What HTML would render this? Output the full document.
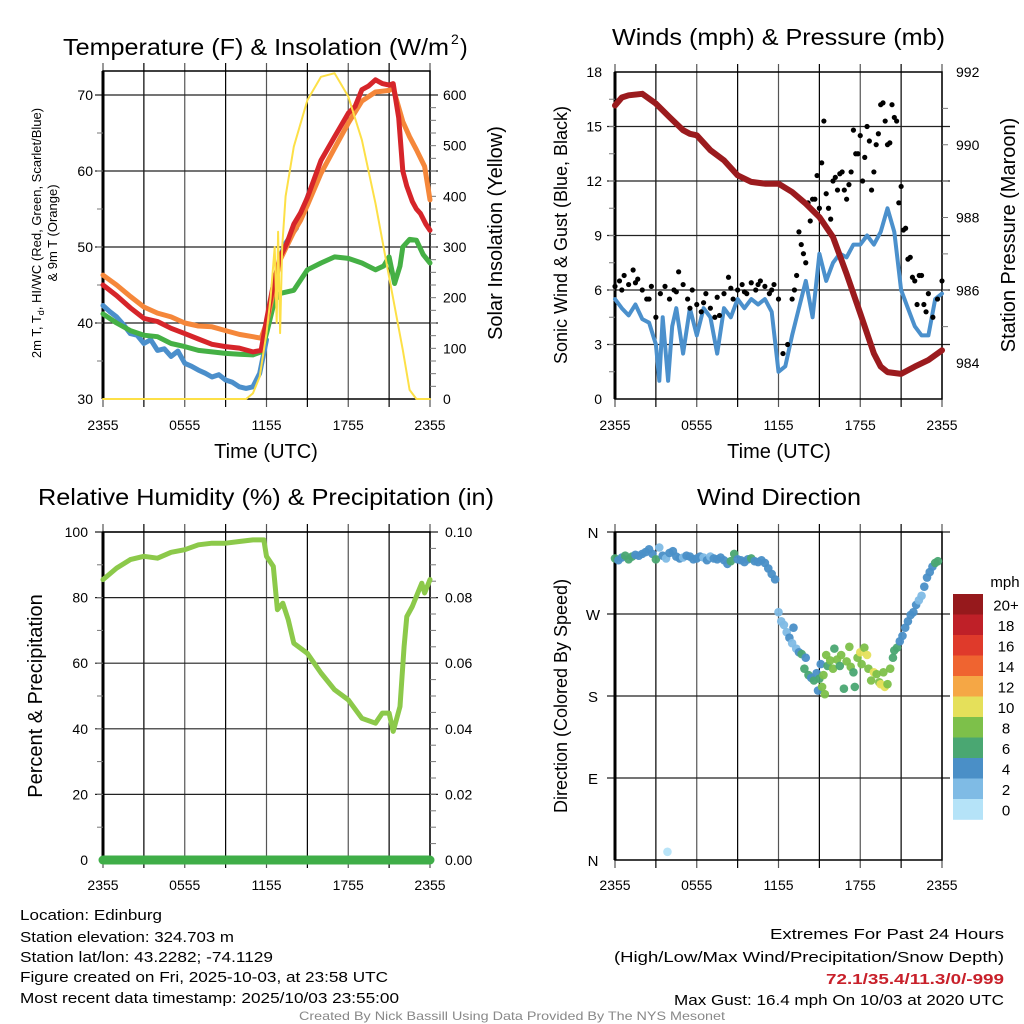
<!DOCTYPE html>
<html><head><meta charset="utf-8"><style>
html,body{margin:0;padding:0;background:#fff;}
svg{display:block;font-family:"Liberation Sans",sans-serif;}
</style></head><body>
<svg id="chart" width="1024" height="1024" viewBox="0 0 1024 1024" xmlns="http://www.w3.org/2000/svg">
<g id="static">
<text x="63" y="55" font-size="23" textLength="386" lengthAdjust="spacingAndGlyphs">Temperature (F) &amp; Insolation (W/m</text>
<text x="451" y="44" font-size="14">2</text>
<text x="460" y="55" font-size="23">)</text>
<text x="612" y="45" font-size="23" textLength="333" lengthAdjust="spacingAndGlyphs">Winds (mph) &amp; Pressure (mb)</text>
<text x="38" y="505" font-size="23" textLength="456" lengthAdjust="spacingAndGlyphs">Relative Humidity (%) &amp; Precipitation (in)</text>
<text x="697" y="505" font-size="23" textLength="164" lengthAdjust="spacingAndGlyphs">Wind Direction</text>
<text x="266" y="458" font-size="20" text-anchor="middle">Time (UTC)</text>
<text x="779" y="458" font-size="20" text-anchor="middle">Time (UTC)</text>
<text transform="translate(41,233) rotate(-90)" font-size="13" text-anchor="middle">2m T, T<tspan font-size="9" dy="3">d</tspan><tspan dy="-3">, HI/WC (Red, Green, Scarlet/Blue)</tspan></text>
<text transform="translate(57,233) rotate(-90)" font-size="13" text-anchor="middle">&amp; 9m T (Orange)</text>
<text transform="translate(502,233) rotate(-90)" font-size="20" text-anchor="middle">Solar Insolation (Yellow)</text>
<text transform="translate(567,235) rotate(-90)" font-size="18" text-anchor="middle">Sonic Wind &amp; Gust (Blue, Black)</text>
<text transform="translate(1015,235) rotate(-90)" font-size="20" text-anchor="middle">Station Pressure (Maroon)</text>
<text transform="translate(42,696) rotate(-90)" font-size="20" text-anchor="middle">Percent &amp; Precipitation</text>
<text transform="translate(567,696) rotate(-90)" font-size="18" text-anchor="middle">Direction (Colored By Speed)</text>
<g font-size="15">
<text x="20" y="920" textLength="142" lengthAdjust="spacingAndGlyphs">Location: Edinburg</text>
<text x="20" y="942" textLength="214" lengthAdjust="spacingAndGlyphs">Station elevation: 324.703 m</text>
<text x="20" y="962" textLength="253" lengthAdjust="spacingAndGlyphs">Station lat/lon: 43.2282; -74.1129</text>
<text x="20" y="982" textLength="368" lengthAdjust="spacingAndGlyphs">Figure created on Fri, 2025-10-03, at 23:58 UTC</text>
<text x="20" y="1003" textLength="379" lengthAdjust="spacingAndGlyphs">Most recent data timestamp: 2025/10/03 23:55:00</text>
<text x="1004" y="939" text-anchor="end" textLength="234" lengthAdjust="spacingAndGlyphs">Extremes For Past 24 Hours</text>
<text x="1004" y="962" text-anchor="end" textLength="390" lengthAdjust="spacingAndGlyphs">(High/Low/Max Wind/Precipitation/Snow Depth)</text>
<text x="1004" y="984" text-anchor="end" font-weight="bold" fill="#c8202a" textLength="178" lengthAdjust="spacingAndGlyphs">72.1/35.4/11.3/0/-999</text>
<text x="1004" y="1005" text-anchor="end" textLength="330" lengthAdjust="spacingAndGlyphs">Max Gust: 16.4 mph On 10/03 at 2020 UTC</text>
</g>
<text x="512" y="1020" font-size="12" fill="#888" text-anchor="middle" textLength="426" lengthAdjust="spacingAndGlyphs">Created By Nick Bassill Using Data Provided By The NYS Mesonet</text>
</g>
</svg>
<script>
// ---------- data ----------
const timeTicks=["2355","0555","1155","1755","2355"];
const redT=[0,1,2,3,4,5,6,7,8,9,10,11,11.6,12,12.5,13,13.5,14,14.5,15,16,17,18,18.5,19,19.5,20,20.5,21,21.3,21.7,22,22.3,22.7,23,23.3,23.7,24];
const redV=[45,43.6,42,40.6,40.2,39.3,38.6,37.9,37.2,36.9,36.7,36.2,36.4,40.4,45,48.7,50.5,53,54.5,56.5,61.4,64.5,67.6,68.5,70.7,71.2,72,71.5,71.3,71.5,67,60,58,56,55,54.4,53,52.2];
const orangeT=[0,1,2,3,4,5,6,7,8,9,10,11,11.6,12,12.5,13,14,14.5,15,16,17,18,19,20,21,21.3,22,22.5,23,23.6,24];
const orangeV=[46.3,45,43.5,42.1,41.3,40.8,40,39.6,39.5,39,38.5,38.2,38,40,44,48.3,52,53.5,55.5,59.7,63,66.3,69.2,70.4,70.6,70.9,66.5,64.5,62.8,60.6,56.2];
const greenT=[0,1,2,3,4,5,6,7,8,9,10,11,11.6,12,12.6,13,14,15,16,17,18,19,20,20.6,21,21.4,21.8,22,22.5,23,23.5,24];
const greenV=[41.2,40,39,38.4,38.2,37.3,36.9,36.4,36.2,36,35.9,35.8,36.2,38.6,43,43.9,44.3,47,47.9,48.7,48.5,47.9,47,47.5,48.7,45.2,47.5,50,51,50.9,49,47.9];
const blueT=[0,0.5,1,1.5,2,2.5,3,3.5,4,4.5,5,5.5,6,6.5,7,7.5,8,8.5,9,9.5,10,10.5,11,11.5,12];
const blueV=[42.3,41.5,40.8,39.8,38.6,38.4,37.3,37.8,36.4,36.6,35.6,36.3,34.7,34.3,33.8,33.4,32.9,33.2,32.5,32.2,31.6,31.4,31.6,33.4,37.8];
const blue2T=[13.1,13.4,13.8,14.2];
const blue2V=[49.2,50.5,51.5,52.5];
const blue3T=[14.9,15.2,15.5];
const blue3V=[56,57.5,58.3];
const solarT=[0,10.5,11,11.5,12,12.3,12.6,12.75,12.85,13.0,13.15,13.4,14,15,16,17,18,19,20,21,22,22.5,23,24];
const solarV=[0,0,11,44,130,200,300,150,330,130,300,400,498,590,636,643,597,511,386,241,97,18,0,0];

const windT=[0,0.5,1,1.5,2,2.5,3,3.25,3.5,3.9,4.2,4.5,5,5.5,6,6.5,7,7.5,8,8.5,9,9.5,10,10.5,11,11.5,12,12.5,13,13.5,14,14.5,15,15.5,16,16.5,17,17.5,18,18.5,19,19.5,20,20.5,21,21.5,22,22.5,23,23.5,24];
const windV=[5.5,5,4.6,5.2,4.4,4.2,3,1,4.5,1,4,5,2.5,5,3.5,5,4.5,2.5,5,4.5,5.5,5,5.5,5.2,5.5,4.8,1.5,1.8,3.5,5,6.5,4.5,8,6.5,7.5,8,7.8,8.5,8.5,9,8.5,9.2,10.5,9.2,6,5,4,3.5,3.5,5.5,5.8];
const gustT=[0,0.33,0.67,1,1.33,1.67,2,2.33,2.67,3,3.33,3.67,4,4.33,4.67,5,5.33,5.67,6,6.33,6.67,7,7.33,7.67,8,8.33,8.67,9,9.33,9.67,10,10.33,10.67,11,11.33,11.67,12,
12.33,12.67,13,13.33,13.67,14,14.33,14.67,15,15.33,15.67,16,16.33,16.67,17,17.33,17.67,18,18.33,18.67,19,19.33,19.67,20,20.33,20.67,21,21.33,21.67,22,22.33,22.67,23,23.33,23.67,24,
13.17,13.5,13.83,14.17,14.5,14.83,15.17,15.5,15.83,16.17,16.5,16.83,17.17,17.5,17.83,18.17,18.5,18.83,19.17,19.5,19.83,20.17,20.5,20.83,21.17,21.5,21.83,22.17,22.5,22.83,
0.5,1.5,2.5,4.5,5.5,6.5,7.5,8.5,9.5,10.5,11.5];
const gustV=[6.2,6.5,6.8,6.3,7.1,6.6,6.0,5.5,6.2,4.5,5.8,6.2,5.5,6.0,7.0,6.3,5.5,6.0,5.2,4.8,5.8,5.0,4.5,4.6,5.8,6.7,5.5,6.0,6.3,5.8,6.4,6.0,6.5,6.2,5.8,6.3,5.5,
2.5,3.0,5.5,6.8,8.5,7.5,9.8,11,10.5,15.3,10.5,12,11.5,12.5,11,12.5,13.5,14.5,13.3,14.2,12.5,14.6,16.3,14,16.2,15.3,11.7,9.4,7.8,6.5,6.8,5.2,5.8,4.5,5.5,6.5,
6.0,9.2,8.0,10.8,11.0,12.3,13.0,11.3,9.9,12.2,12.4,11.5,11.8,14.8,13.5,12.0,15.0,11.5,14.0,16.2,15.3,14.1,15.5,10.8,9.3,7.7,6.7,5.2,6.8,4.8,
6.0,6.4,5.5,5.9,5.0,5.3,5.6,6.1,5.9,6.3,6.0];
const presT=[0,0.5,1,2,3,4,5,5.5,6,7,8,9,10,11,12,13,14,15,16,17,18,19,19.5,20,21,22,23,24];
const presV=[991.08,991.3,991.36,991.4,991.13,990.76,990.4,990.3,990.26,989.85,989.57,989.16,988.98,988.93,988.93,988.7,988.38,988.01,987.46,986.45,985.36,984.26,983.9,983.75,983.7,983.9,984.08,984.35];

const rhT=[0,1,2,3,4,5,6,7,8,9,10,11,11.8,12,12.5,12.8,13.2,13.6,14,15,16,17,18,19,20,20.5,21,21.3,21.8,22.1,22.3,22.7,23,23.4,23.6,24];
const rhV=[85.5,89,91.6,92.6,92,93.8,94.6,96.1,96.6,96.6,97.1,97.6,97.6,92.6,89.5,76.3,78.3,73.2,66.1,63,57,51.9,48.8,43.2,41.7,44.8,44.8,39.2,46.8,65.1,74.2,77.3,80.4,84.4,81.4,85.5];
const precipT=[0,24];
const precipV=[0,0];

const dirT=[0,0.25,0.5,0.75,1,1.25,1.5,1.75,2,2.25,2.5,2.75,3,3.25,3.5,3.75,4,4.25,4.5,4.75,5,5.25,5.5,5.75,6,6.25,6.5,6.75,7,7.25,7.5,7.75,8,8.25,8.5,8.75,9,9.25,9.5,9.75,10,10.25,10.5,10.75,11,11.25,11.5,11.75,
12.0,12.2,12.4,12.6,12.8,13.0,13.1,13.3,13.5,13.7,13.9,14.0,14.2,14.4,14.6,14.8,14.9,15.0,15.1,15.2,15.3,15.4,15.5,15.6,15.8,16.0,16.1,16.3,16.5,16.6,16.8,17.0,17.2,17.3,17.5,17.6,17.8,18.0,18.1,18.3,18.5,18.6,18.8,19.0,19.2,19.4,19.5,19.7,19.8,20.0,20.2,20.4,20.5,20.7,20.9,21.1,21.3,21.5,21.7,21.9,22.1,22.3,22.5,22.7,22.9,23.1,23.3,23.5,23.7,3.85];
const dirV=[331,329,332,334,330,333,335,334,336,338,341,336,330,343,334,331,337,339,333,331,332,334,333,330,331,333,332,329,333,331,330,332,329,325,328,336,330,329,327,330,331,328,327,329,326,320,314,308,
272,262,258,250,244,238,255,232,228,226,210,222,203,200,197,205,186,199,215,190,203,182,225,213,219,210,232,220,213,225,188,218,234,212,206,190,222,228,215,233,225,210,197,206,204,195,193,206,190,193,210,222,230,233,240,246,255,262,269,272,280,285,290,300,310,316,322,326,328,9];
const dirS=[6,4,4,6,6,6,4,4,4,4,4,4,6,2,4,2,4,4,4,4,2,4,4,4,4,4,2,4,2,4,4,4,4,4,6,6,4,4,4,4,6,4,4,4,4,4,4,4,
2,2,2,2,4,2,4,2,4,6,6,4,6,4,6,4,4,6,4,8,8,8,8,6,8,8,6,8,6,8,6,8,8,8,6,6,8,10,8,8,10,8,8,10,8,8,10,8,10,8,8,6,6,6,4,4,4,4,4,4,4,2,2,4,4,4,4,6,6,0];
const cbLabels=["20+","18","16","14","12","10","8","6","4","2","0"];
const cbColors=["#96191c","#bf2028","#df3a2b","#ef6430","#f5a745","#e5e05a","#7dc04a","#4aa772","#4a8fc7","#7fbbe5","#b5e3f8"];
const dirLabels=["N","W","S","E","N"];

// ---------- drawing ----------
const svg=document.getElementById('chart');
const NS='http://www.w3.org/2000/svg';
function mk(tag,attrs,parent){const e=document.createElementNS(NS,tag);for(const k in attrs)e.setAttribute(k,attrs[k]);(parent||svg).appendChild(e);return e;}
function lin(d0,d1,r0,r1){return v=>r0+(v-d0)/(d1-d0)*(r1-r0);}
function pathFrom(T,V,xs,ys){let d='';for(let i=0;i<T.length;i++){d+=(i?'L':'M')+xs(T[i]).toFixed(1)+','+ys(V[i]).toFixed(1);}return d;}

function frame(g,x0,x1,y0,y1,hVals,ys){
  for(let k=0;k<=8;k++){const x=x0+(x1-x0)*k/8;
    const l=mk('line',{x1:x,x2:x,y1:y0-8,y2:y1+8,stroke:(k%2?'#000':'#555'),'stroke-width':1.2},g);
    
    }
  hVals.forEach(v=>{const y=ys(v);
    const l=mk('line',{x1:x0-8,x2:x1+8,y1:y,y2:y,stroke:'#222','stroke-width':1.2},g);
    
    });
  const r=mk('rect',{x:x0,y:y0,width:x1-x0,height:y1-y0,fill:'none',stroke:'#000','stroke-width':1.5},g);
  
  
  const la=mk('line',{x1:x0,x2:x0,y1:y0,y2:y1,stroke:'#000','stroke-width':3},g);
  
  
}
function xLabels(g,x0,x1,y){timeTicks.forEach((s,i)=>{const t=mk('text',{x:x0+(x1-x0)*i/4,y:y,'font-size':14,'text-anchor':'middle'},g);t.textContent=s;
  
  });}
function yLabels(g,vals,ys,x,anchor,fmt){vals.forEach(v=>{const t=mk('text',{x:x,y:ys(v)+5,'font-size':14,'text-anchor':anchor},g);t.textContent=fmt(v);
  
  });}
function minorTicks(g,x,y0,y1,n,dir){for(let i=1;i<n;i++){const y=y0+(y1-y0)*i/n;const l=mk('line',{x1:x,x2:x+dir*6,y1:y,y2:y,stroke:'#777','stroke-width':1},g);
  
  }}
function series(g,T,V,xs,ys,color,w,name){const p=mk('path',{d:pathFrom(T,V,xs,ys),fill:'none',stroke:color,'stroke-width':w,'stroke-linejoin':'round','stroke-linecap':'round'},g);
  
  return p;}

// Panel 1
(function(){
  const g=mk('g',{});
  const x0=103,x1=430,y0=71,y1=399;
  const xs=lin(0,24,x0,x1), ys=lin(30,70,399,95), ysR=lin(0,600,399,95);
  frame(g,x0,x1,y0,y1,[40,50,60,70],ys);
  minorTicks(g,x0,ys(30),ys(70),8,-1);minorTicks(g,x1,ysR(0),ysR(600),24,1);
  series(g,blueT,blueV,xs,ys,'#4b8fcb',5,'heat-index-windchill-line');
  series(g,blue2T,blue2V,xs,ys,'#4b8fcb',5,'heat-index-segment');
  series(g,blue3T,blue3V,xs,ys,'#4b8fcb',5,'heat-index-segment');
  series(g,greenT,greenV,xs,ys,'#45b045',5,'dewpoint-line');
  series(g,orangeT,orangeV,xs,ys,'#f5873a',5,'temp-9m-line');
  series(g,redT,redV,xs,ys,'#d6252a',5,'temp-2m-line');
  series(g,solarT,solarV,xs,ysR,'#fde047',2,'solar-insolation-line');
  yLabels(g,[30,40,50,60,70],ys,x0-10,'end',v=>v);
  yLabels(g,[0,100,200,300,400,500,600],ysR,x1+13,'start',v=>v);
  xLabels(g,x0,x1,430);
})();
// Panel 2
(function(){
  const g=mk('g',{});
  const x0=615,x1=942,y0=72,y1=399;
  const xs=lin(0,24,x0,x1), ys=lin(0,18,399,72), ysR=lin(984,992,363,72);
  frame(g,x0,x1,y0,y1,[3,6,9,12,15],ys);
  minorTicks(g,x0,ys(0),ys(18),12,-1);minorTicks(g,x1,ysR(984),ysR(992),8,1);
  series(g,windT,windV,xs,ys,'#4b90cc',4,'sonic-wind-line');
  gustT.forEach((t,i)=>{const c=mk('circle',{cx:xs(t),cy:ys(gustV[i]),r:2.6,fill:'#000'},g);
    
    });
  series(g,presT,presV,xs,ysR,'#9b1b1e',6,'pressure-line');
  yLabels(g,[0,3,6,9,12,15,18],ys,x0-13,'end',v=>v);
  yLabels(g,[984,986,988,990,992],ysR,x1+14,'start',v=>v);
  xLabels(g,x0,x1,430);
})();
// Panel 3
(function(){
  const g=mk('g',{});
  const x0=103,x1=430,y0=532,y1=860;
  const xs=lin(0,24,x0,x1), ys=lin(0,100,860,532), ysR=lin(0,0.1,860,532);
  frame(g,x0,x1,y0,y1,[20,40,60,80,100],ys);
  minorTicks(g,x0,ys(0),ys(100),10,-1);minorTicks(g,x1,ysR(0),ysR(0.1),20,1);
  series(g,rhT,rhV,xs,ys,'#8cc94a',5,'relative-humidity-line');
  series(g,precipT,precipV,xs,ysR,'#3fae48',9,'precipitation-line');
  yLabels(g,[0,20,40,60,80,100],ys,x0-15,'end',v=>v);
  yLabels(g,[0,0.02,0.04,0.06,0.08,0.1],ysR,x1+15,'start',v=>v.toFixed(2));
  xLabels(g,x0,x1,890);
})();
// Panel 4
(function(){
  const g=mk('g',{});
  const x0=615,x1=942,y0=532,y1=860;
  const xs=lin(0,24,x0,x1), ys=lin(0,360,860,532);
  frame(g,x0,x1,y0,y1,[90,180,270,360],ys);
  const col=s=>{const idx=Math.min(10,Math.floor((s+1)/2));return cbColors[10-idx];};
  dirT.forEach((t,i)=>{const c=mk('circle',{cx:xs(t),cy:ys(dirV[i]),r:4.3,fill:col(dirS[i]),'fill-opacity':0.95},g);
    
    });
  dirLabels.forEach((s,i)=>{const t=mk('text',{x:x0-22,y:ys(360-i*90)+6,'font-size':15,'text-anchor':'middle'},g);t.textContent=s;
    
    });
  xLabels(g,x0,x1,890);
  const cb=mk('g',{},g);
  const bx=953,by=594,bh=20.5;
  cbColors.forEach((c,i)=>{const r=mk('rect',{x:bx,y:by+i*bh,width:30,height:bh+0.3,fill:c},cb);
    
    
    const t=mk('text',{x:1006,y:by+i*bh+bh/2+6,'font-size':15,'text-anchor':'middle'},cb);t.textContent=cbLabels[i];
    
    });
  const u=mk('text',{x:1005,y:587,'font-size':15,'text-anchor':'middle'},cb);u.textContent='mph';
  
  
})();
</script>
</body></html>
